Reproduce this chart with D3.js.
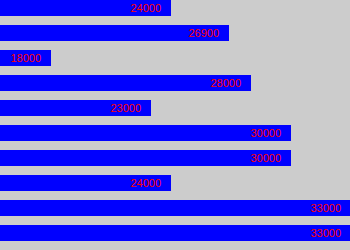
<!DOCTYPE html>
<html>
<head>
<meta charset="utf-8">
<script src="https://cdn.jsdelivr.net/npm/d3@7"></script>
<style>
html,body{margin:0;padding:0;background:#cccccc;overflow:hidden;}
svg{display:block;}
text{font-family:"Liberation Sans",Arial,sans-serif;font-size:11px;}
</style>
</head>
<body>
<script>
const categories = ["A","B","C","D","E","F","G","H","I","J"];
const values = [24000, 26900, 18000, 28000, 23000, 30000, 30000, 24000, 33000, 33000];

const W = 350, H = 250;
const svg = d3.select("body").append("svg").attr("width", W).attr("height", H);
svg.append("rect").attr("width", W).attr("height", H).attr("fill", "#cccccc");

const x = d3.scaleLinear().domain([15450, 33000]).range([0, 351]);
// step 25, bar height 16
const yb = d3.scaleBand().domain(categories).range([0, 241]).paddingInner(0.36).paddingOuter(0);

const data = categories.map((c, i) => ({c, v: values[i]}));

svg.selectAll("rect.bar").data(data).enter().append("rect")
  .attr("class", "bar")
  .attr("x", 0)
  .attr("y", d => yb(d.c))
  .attr("width", d => x(d.v))
  .attr("height", yb.bandwidth())
  .attr("fill", "#0000ff");

svg.selectAll("text.lbl").data(data).enter().append("text")
  .attr("class", "lbl")
  .attr("x", d => x(d.v) - 10)
  .attr("y", d => yb(d.c) + yb.bandwidth() / 2 + 4)
  .attr("text-anchor", "end")
  .attr("fill", "#ff0000")
  .text(d => d.v);
</script>
</body>
</html>
